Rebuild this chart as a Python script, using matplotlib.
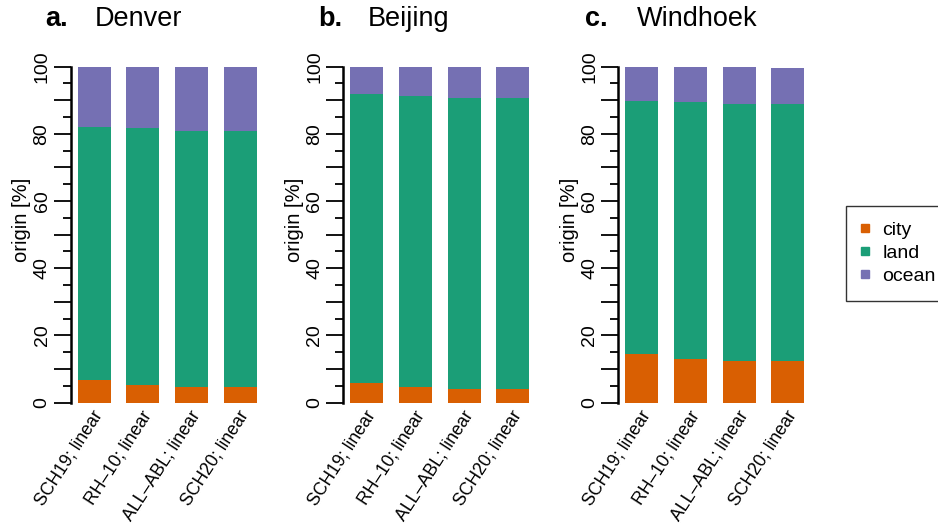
import matplotlib
matplotlib.use('Agg')
import matplotlib.pyplot as plt
from matplotlib.lines import Line2D
from matplotlib.ticker import FuncFormatter
from matplotlib.transforms import ScaledTranslation
import numpy as np

plt.rcParams['font.family'] = ['Liberation Sans', 'DejaVu Sans']

# ---- data ----
cities = ['Denver', 'Beijing', 'Windhoek']
panel_letters = ['a.', 'b.', 'c.']
models = ['SCH19; linear', 'RH\u201310; linear', 'ALL\u2013ABL; linear', 'SCH20; linear']
categories = ['city', 'land', 'ocean']
colors = ['#D95F02', '#1B9E77', '#7570B3']

denver_city = [6.9, 5.3, 4.7, 4.7]
denver_land = [75.1, 76.5, 76.2, 76.2]
denver_ocean = [17.9, 18.2, 19.1, 19.1]

beijing_city = [5.8, 4.7, 4.1, 4.1]
beijing_land = [86.0, 86.5, 86.7, 86.7]
beijing_ocean = [8.2, 8.8, 9.2, 9.2]

windhoek_city = [14.6, 13.0, 12.4, 12.4]
windhoek_land = [75.3, 76.4, 76.4, 76.4]
windhoek_ocean = [10.1, 10.6, 11.2, 10.9]

data = {
    'Denver': [denver_city, denver_land, denver_ocean],
    'Beijing': [beijing_city, beijing_land, beijing_ocean],
    'Windhoek': [windhoek_city, windhoek_land, windhoek_ocean],
}

# ---- layout ----
W, H = 938, 525
fig = plt.figure(figsize=(W / 100, H / 100), dpi=100)

left_px = [70.7, 343.3, 618.3]
bottom_px, top_px = 402.7, 66.7
ax_w_px = 192
px_per_unit = 48.7
x_left = -0.483
x_right = x_left + ax_w_px / px_per_unit
title_x_px = [45, 318, 585]
name_x_px = [95, 368, 637]

label_fmt = FuncFormatter(lambda v, p: f'{int(round(v))}' if int(round(v)) % 20 == 0 else '')
xlab_shift = ScaledTranslation(5 / 100, 0, fig.dpi_scale_trans)

x = np.arange(len(models))
for i, city in enumerate(cities):
    ax = fig.add_axes([left_px[i] / W, 1 - bottom_px / H, ax_w_px / W, (bottom_px - top_px) / H])
    bottom = np.zeros(len(models))
    for vals, col in zip(data[city], colors):
        ax.bar(x, vals, width=0.68, bottom=bottom, color=col, linewidth=0)
        bottom = bottom + np.array(vals)
    ax.set_xlim(x_left, x_right)
    ax.set_ylim(0, 100)
    for s in ['top', 'right', 'bottom']:
        ax.spines[s].set_visible(False)
    ax.spines['left'].set_linewidth(1.8)
    ax.spines['left'].set_bounds(0, 100)
    ax.set_yticks(np.arange(0, 101, 10))
    ax.set_yticks(np.arange(5, 100, 10), minor=True)
    ax.yaxis.set_major_formatter(label_fmt)
    ax.tick_params(axis='y', which='major', length=12, width=1.3, direction='out', pad=2.5,
                   labelsize=14)
    ax.tick_params(axis='y', which='minor', length=6, width=1.3, direction='out')
    for lab in ax.get_yticklabels():
        lab.set_rotation(90)
        lab.set_va('center')
    ax.set_xticks(x)
    ax.set_xticklabels(models, rotation=57, ha='right', va='center', rotation_mode='anchor',
                       fontsize=12.7)
    ax.tick_params(axis='x', length=0, pad=7)
    for lab in ax.get_xticklabels():
        lab.set_transform(lab.get_transform() + xlab_shift)
    ax.set_ylabel('origin [%]', fontsize=14.5)
    ax.yaxis.set_label_coords(-0.205, 0.545)
    fig.text(title_x_px[i] / W, 1 - 19 / H, panel_letters[i], fontsize=19.5, fontweight='bold',
             ha='left', va='center')
    fig.text(name_x_px[i] / W, 1 - 19 / H, city, fontsize=19.5, ha='left', va='center')

handles = [Line2D([0], [0], marker='s', linestyle='none', markersize=6, markerfacecolor=c,
                  markeredgecolor=c) for c in colors]
leg = fig.legend(handles, categories, loc='upper left', bbox_to_anchor=(846 / W, 1 - 206 / H),
                 frameon=True, fancybox=False, edgecolor='black', fontsize=14,
                 handlelength=0.4, handletextpad=0.67, labelspacing=0.28, borderpad=0.8,
                 borderaxespad=0)
leg.get_frame().set_linewidth(1.0)

fig.savefig('out.png', dpi=100)
